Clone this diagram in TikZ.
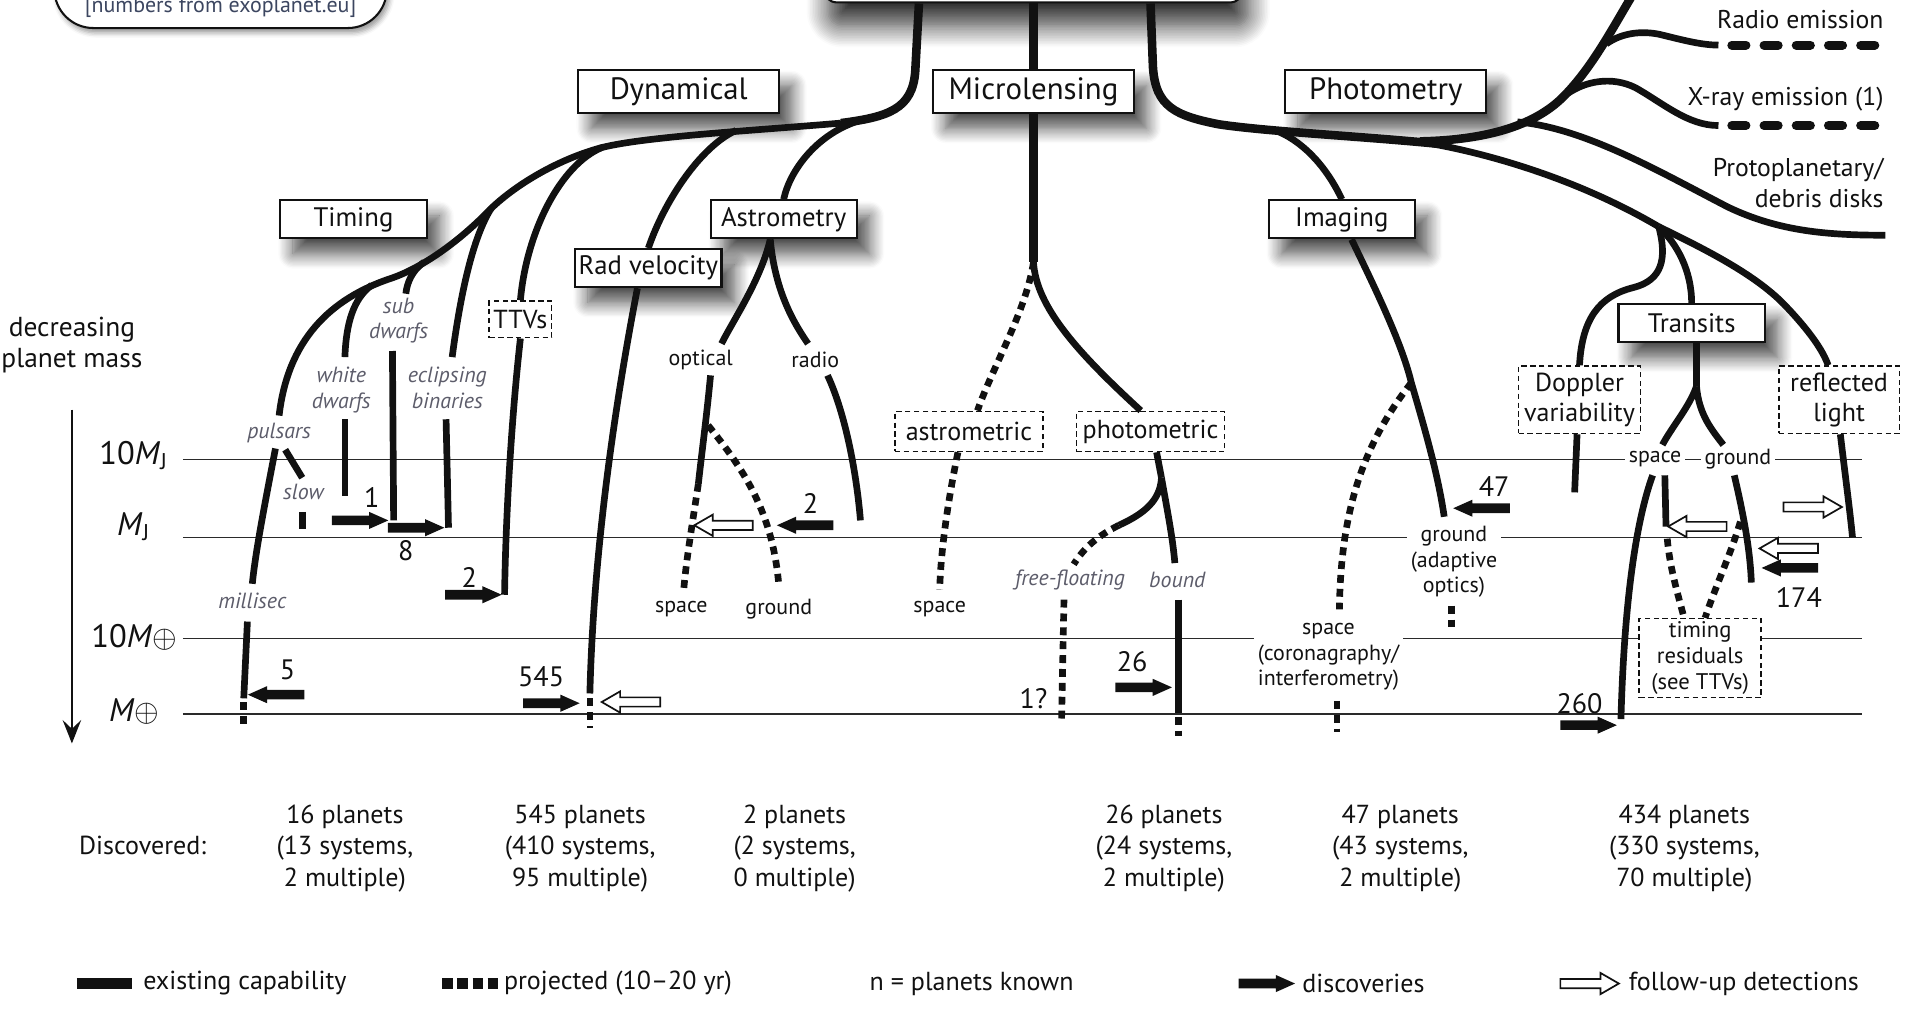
\documentclass[tikz,border=0pt]{standalone}
\usepackage{fontspec}
\setmainfont{PT Sans}
\usetikzlibrary{arrows.meta,shapes.arrows,shadows.blur,calc}

\definecolor{ink}{HTML}{111111}
\definecolor{kindgray}{HTML}{5C5C6A}
\definecolor{scalegray}{HTML}{2A2A2A}
\definecolor{notecolor}{HTML}{3C4660}

\tikzset{
  every node/.style={text=ink, font=\fontsize{8}{9.2}\selectfont},
  method/.style={draw=ink, line width=0.6pt, fill=white, inner sep=0pt,
    minimum width=20.6mm, minimum height=4.4mm, font=\fontsize{9}{10}\selectfont,
    blur shadow={shadow xshift=1.3mm, shadow yshift=-1.6mm, shadow blur radius=1.5mm, shadow blur steps=12, shadow opacity=70}},
  submethod/.style={method, minimum width=15mm, minimum height=3.9mm, font=\fontsize{7.8}{9}\selectfont},
  variant/.style={draw=ink, line width=0.5pt, dash pattern=on 1.6pt off 1pt, fill=white,
    inner sep=0pt, align=center, font=\fontsize{7.6}{8.9}\selectfont},
  exist/.style={draw=ink, line width=1.95pt},
  trunk/.style={draw=ink, line width=2.5pt},
  proj/.style={draw=ink, line width=1.95pt, dash pattern=on 2.3pt off 1.75pt},
  emit/.style={draw=ink, line width=2.65pt, line cap=round, dash pattern=on 4.1pt off 5.3pt},
  massline/.style={draw=scalegray, line width=0.5pt},
  kind/.style={font=\itshape\fontsize{6.4}{7.5}\selectfont, text=kindgray, align=center, inner sep=1pt},
  where/.style={font=\fontsize{6.4}{7.4}\selectfont, align=center, inner sep=1.2pt},
  count/.style={font=\fontsize{8.2}{9}\selectfont, inner sep=0.5pt},
  level/.style={font=\fontsize{9.5}{10}\selectfont, anchor=base},
  tally/.style={align=center, font=\fontsize{7.6}{9.2}\selectfont},
  emission/.style={anchor=east, inner sep=0pt, font=\fontsize{7.5}{9.2}\selectfont},
  legendtext/.style={anchor=west, inner sep=0pt, font=\fontsize{7.6}{9}\selectfont},
  disc/.style={single arrow, fill=ink, minimum height=5.8mm, inner xsep=0pt, inner ysep=1.2pt,
    single arrow head extend=1.1pt, single arrow tip angle=48},
  followup/.style={single arrow, draw=ink, line width=0.5pt, fill=white, minimum height=6mm,
    inner xsep=0pt, inner ysep=1.1pt, single arrow head extend=1.75pt, single arrow tip angle=60},
  back/.style={shape border rotate=180}
}

\begin{document}
\begin{tikzpicture}[x=0.125mm, y=-0.125mm]
\useasboundingbox (0,0) rectangle (1568,828);
\clip (0,0) rectangle (1568,828);

% mass scale
\foreach \y in {377,441,524,586}
  \draw [massline] (150,\y) -- (1528,\y);
\node [level] (mj10) at (110,381) {10\textit{M}\textsubscript{J}};
\node [level] (mj)   at (110,439) {\textit{M}\textsubscript{J}};
\node [level] (me10) at (110,531) {10\textit{M}$\oplus$};
\node [level] (me)   at (110,592) {\textit{M}$\oplus$};
\node [align=center] (axislbl) at (59,283) {decreasing\\planet mass};
\coordinate (axisend) at (59,610);
\draw [draw=ink, line width=0.5pt, -{Stealth[length=2.4mm, width=1.9mm, inset=0.9mm]}] ($(axislbl.south)+(0,20)$) -- (axisend);

% top boxes
\node [draw=ink, line width=0.6pt, fill=white, rounded corners=1.4mm, minimum width=43.1mm, minimum height=11.25mm,
  blur shadow={shadow xshift=0.5mm, shadow yshift=-2.4mm, shadow blur radius=2.2mm, shadow blur steps=14, shadow opacity=80}] (methods) at (848,-43) {};
\node [draw=ink, line width=0.6pt, fill=white, rounded corners=4mm, minimum width=34.1mm, minimum height=8.75mm,
  blur shadow={shadow xshift=0.3mm, shadow yshift=-0.5mm, shadow blur radius=0.5mm, shadow opacity=40}] (note) at (181,-12) {};
\node [where, text=notecolor, anchor=base] (notetext) at (181,10) {[numbers from exoplanet.eu]};

% method boxes
\node [method]    (dyn)      at (557,75)   {Dynamical};
\node [method]    (micro)    at (848,75)   {Microlensing};
\node [method]    (phot)     at (1137,75)  {Photometry};
\node [submethod] (timing)   at (290,180)  {Timing};
\node [submethod] (astro)    at (643,180)  {Astrometry};
\node [submethod] (imaging)  at (1101,180) {Imaging};
\node [submethod] (rv)       at (532,220)  {Rad velocity};
\node [submethod] (transits) at (1388,265) {Transits};

\node [variant, minimum width=6.4mm,  minimum height=3.75mm] (ttv)     at (427,262)  {TTVs};
\node [variant, minimum width=15.2mm, minimum height=4.1mm]  (astmic)  at (795,354)  {astrometric};
\node [variant, minimum width=15.2mm, minimum height=4.1mm]  (phomic)  at (944,354)  {photometric};
\node [variant, minimum width=12.5mm, minimum height=6.9mm]  (doppler) at (1296,328) {Doppler\\variability};
\node [variant, minimum width=12.4mm, minimum height=6.9mm]  (reflect) at (1509,328) {reflected\\light};
\node [variant, minimum width=12.5mm, minimum height=8.1mm, font=\fontsize{6.6}{7.6}\selectfont] (resid) at (1395,540) {timing\\residuals\\(see TTVs)};

% labels along the branches
\node [kind] (pulsar) at (229,355) {pulsars};
\node [kind] (wdwarf) at (280,320) {white\\dwarfs};
\node [kind] (sdwarf) at (327,263) {sub\\dwarfs};
\node [kind] (eclbin) at (367,318) {eclipsing\\binaries};
\node [kind] (slow)   at (249,404) {slow};
\node [kind] (msec)   at (207,493) {millisec};
\node [kind] (ffloat) at (878,476) {free-floating};
\node [kind] (bound)  at (966,476) {bound};

\node [where] (aopt)    at (575,295) {optical};
\node [where] (arad)    at (669,295) {radio};
\node [where] (aspace)  at (559,500) {space};
\node [where] (aground) at (639,500) {ground};
\node [where] (mspace)  at (771,500) {space};
\node [where, fill=white] (ispace)  at (1090,539) {space\\(coronagraphy/\\interferometry)};
\node [where, fill=white] (iground) at (1193,461) {ground\\(adaptive\\optics)};
\node [where, fill=white] (tspace)  at (1358,377) {space};
\node [where, fill=white] (tground) at (1426,377) {ground};

\node [emission] (radio) at (1546,16) {Radio emission};
\node [emission] (xray)  at (1546,81) {X-ray emission (1)};
\node [emission, align=right] (disks) at (1546,150) {Protoplanetary/\\debris disks};

% Dynamical
\draw [trunk] ($(methods.south)+(-94,0)$) -- (751,58) .. controls (749,90) and (728,96) .. (690,101);
\draw [exist] (690,101) .. controls (620,107) and (530,112) .. (494,121)
  .. controls (460,130) and (425,150) .. (403,171)
  .. controls (380,195) and (350,218) .. (322,228)
  .. controls (270,245) and (236,280) .. (229,341);
\draw [exist] (705,99) .. controls (670,110) and (648,140) .. (astro.north);
\draw [exist] (604,107) .. controls (575,120) and (545,165) .. (rv.north);
\draw [exist] (494,121) .. controls (460,135) and (432,190) .. (ttv.north);
\draw [exist] (403,171) .. controls (388,195) and (378,240) .. (371,293);
\draw [exist] (348,215) .. controls (338,222) and (334,232) .. (333,241);
\draw [exist] (305,234) .. controls (290,245) and (284,265) .. (283,293);

\draw [exist] (226,368) .. controls (218,410) and (210,450) .. (207,479);
\draw [exist] (234,369) -- (248,392);
\draw [exist] (248,420) -- (248,434);
\draw [exist] (203,510) -- (200,573);
\draw [proj]  (200,576) -- (200,596);
\draw [exist] (283,344) -- (283,407);
\draw [exist] (322,288) -- (323,427);
\draw [exist] (366,344) -- (368,433);
\draw [exist] (ttv.south) .. controls (420,340) and (415,420) .. (414,488);
\draw [exist] ($(rv.south)+(-9,0)$) .. controls (505,330) and (487,450) .. (484,569);
\draw [proj]  (484,573) -- (484,597);

% Astrometry
\coordinate (afork) at ($(astro.south)+(-11,0)$);
\draw [exist] (afork) .. controls (624,230) and (602,262) .. (592,282);
\draw [exist] (afork) .. controls (636,240) and (652,266) .. (663,282);
\draw [exist] (583,308) .. controls (580,340) and (576,370) .. (573,397);
\draw [proj]  (573,397) .. controls (568,430) and (563,460) .. (561,484);
\draw [proj]  (581,349) .. controls (610,385) and (634,420) .. (639,480);
\draw [exist] (679,308) .. controls (694,340) and (703,390) .. (706,427);

% Microlensing
\draw [trunk] (methods.south) -- (micro.north);
\draw [trunk] (micro.south) -- (848,215) coordinate (mfork);
\draw [proj]  (mfork) .. controls (842,255) and (815,300) .. ($(astmic.north)+(7,0)$);
\draw [exist] (mfork) .. controls (850,252) and (885,290) .. ($(phomic.north)+(-8,0)$);
\draw [proj]  ($(astmic.south)+(-9,0)$) .. controls (778,410) and (772,450) .. (771,484);
\draw [exist] ($(phomic.south)+(5,0)$) -- (953,392) coordinate (pfork);
\draw [exist] (pfork) .. controls (958,420) and (962,440) .. (964,462);
\draw [exist] (pfork) .. controls (952,410) and (940,421) .. (918,431);
\draw [proj]  (918,431) .. controls (900,440) and (889,450) .. (881,463);
\draw [proj]  (873,492) -- (871,592);
\draw [exist] (967,492) -- (967,585);
\draw [proj]  (967,588) -- (967,604);

% Photometry
\draw [trunk] ($(methods.south)+(96,0)$) -- (946,55) .. controls (948,88) and (965,95) .. (1000,102)
  .. controls (1040,108) and (1120,112) .. (1180,118);
\draw [trunk] (1165,116) .. controls (1215,115) and (1255,105) .. (1280,82)
  .. controls (1305,58) and (1322,25) .. (1340,-5);
\draw [exist] (1318,36) .. controls (1332,26) and (1350,25) .. (1365,29)
  .. controls (1385,34) and (1398,37) .. (1410,37);
\draw [exist] (1286,77) .. controls (1300,67) and (1322,62) .. (1342,72)
  .. controls (1365,85) and (1385,103) .. (1410,103);
\draw [emit] (1421,37) -- (1540,37);
\draw [emit] (1421,103) -- (1540,103);
\draw [exist] (1245,100) .. controls (1300,105) and (1360,140) .. (1418,170)
  .. controls (1460,190) and (1500,193) .. (1547,193);
\draw [exist] (1175,118) .. controls (1230,128) and (1300,150) .. (1361,186) coordinate (tfan);
\draw [exist] (tfan) .. controls (1368,212) and (1364,230) .. (1340,236)
  .. controls (1312,243) and (1298,262) .. (doppler.north);
\draw [exist] (tfan) .. controls (1376,200) and (1388,222) .. (transits.north);
\draw [exist] (tfan) .. controls (1400,205) and (1442,226) .. (1466,252)
  .. controls (1485,272) and (1496,288) .. ($(reflect.north)+(-9,0)$);

\draw [exist] (1049,108) .. controls (1072,118) and (1090,140) .. (imaging.north);
\draw [exist] ($(imaging.south)+(8,0)$) .. controls (1125,230) and (1150,280) .. (1158,314)
  .. controls (1170,355) and (1180,390) .. (1185,424);
\draw [proj]  (1158,314) .. controls (1118,365) and (1100,420) .. (1099,500);
\draw [proj]  (1097,575) -- (1097,601);
\draw [proj]  (1191,497) -- (1191,517);

% Transits
\draw [exist] ($(transits.south)+(4,0)$) -- (1392,317) coordinate (tsplit);
\draw [exist] (tsplit) .. controls (1386,334) and (1372,350) .. (1364,365);
\draw [exist] (tsplit) .. controls (1394,340) and (1404,352) .. (1414,365);
\draw [exist] ($(doppler.south)+(-2,0)$) -- (1292,404);
\draw [exist] (1356,390) .. controls (1345,420) and (1333,480) .. (1330,590);
\draw [exist] (1366,390) -- (1367,432);
\draw [proj]  (1368,442) .. controls (1370,465) and (1376,485) .. (1381,504);
\draw [exist] (1423,390) .. controls (1430,420) and (1436,450) .. (1437,478);
\draw [proj]  (1428,428) .. controls (1420,455) and (1408,480) .. (1399,507);
\draw [exist] ($(reflect.south)+(1,0)$) .. controls (1514,390) and (1518,420) .. (1520,441);

% discoveries and follow-up detections
\node [disc]       (d1)   at (291,427)  {};
\node [disc]       (d8)   at (337,433)  {};
\node [disc]       (d2t)  at (384,488)  {};
\node [disc, back] (d5)   at (231,570)  {};
\node [disc]       (d545) at (448,577)  {};
\node [disc, back] (d2a)  at (665,431)  {};
\node [disc]       (d26)  at (934,564)  {};
\node [disc, back] (d47)  at (1220,417) {};
\node [disc, back] (d174) at (1473,466) {};
\node [disc]       (d260) at (1299,595) {};
\node [followup, back] (f1) at (521,576)  {};
\node [followup, back] (f2) at (597,431)  {};
\node [followup, back] (f3) at (1396,432) {};
\node [followup]       (f4) at (1484,416) {};
\node [followup, back] (f5) at (1471,450) {};

\node [count] (c1)   at (305,408)  {1};
\node [count] (c8)   at (333,452)  {8};
\node [count] (c2t)  at (385,474)  {2};
\node [count] (c5)   at (236,550)  {5};
\node [count] (c545) at (444,555)  {545};
\node [count] (c2a)  at (665,413)  {2};
\node [count] (c1q)  at (848,573)  {1?};
\node [count] (c26)  at (929,543)  {26};
\node [count] (c47)  at (1226,399) {47};
\node [count] (c174) at (1476,490) {174};
\node [count] (c260) at (1296,577) {260};

% totals
\node [tally] (found) at (117,694) {Discovered:};
\node [tally] (ntim) at (283,696)  {16 planets\\(13 systems,\\2 multiple)};
\node [tally] (nrv)  at (476,696)  {545 planets\\(410 systems,\\95 multiple)};
\node [tally] (nast) at (652,696)  {2 planets\\(2 systems,\\0 multiple)};
\node [tally] (nmic) at (955,696)  {26 planets\\(24 systems,\\2 multiple)};
\node [tally] (nimg) at (1149,696) {47 planets\\(43 systems,\\2 multiple)};
\node [tally] (ntra) at (1382,696) {434 planets\\(330 systems,\\70 multiple)};

% legend
\draw [draw=ink, line width=3.2pt] (63,807) -- (108,807);
\node [legendtext] (lexist) at (117,807) {existing capability};
\draw [draw=ink, line width=3.2pt, dash pattern=on 3.1pt off 1.3pt] (363,807) -- (409,807);
\node [legendtext] (lproj) at (413,807) {projected (10–20 yr)};
\node [legendtext] (lknown) at (713,807) {n = planets known};
\node [disc] (ldisc) at (1035,807) {};
\node [legendtext] (ldisct) at (1068,807) {discoveries};
\node [followup] (lfollow) at (1301,807) {};
\node [legendtext] (lfollowt) at (1336,807) {follow-up detections};

\end{tikzpicture}
\end{document}
